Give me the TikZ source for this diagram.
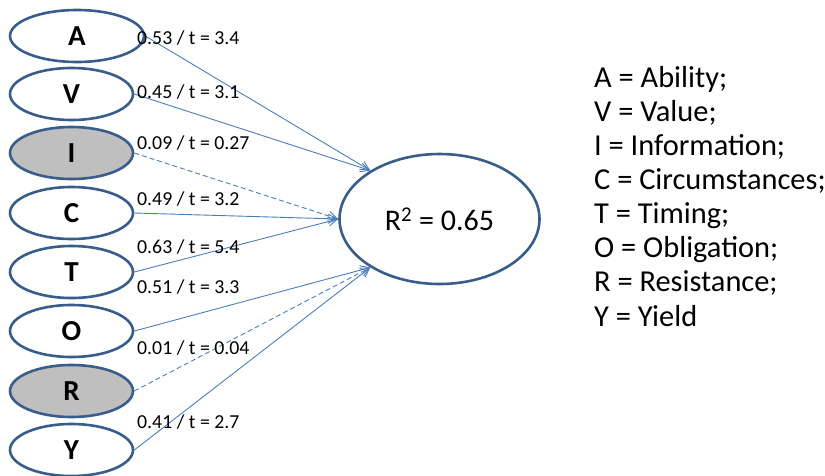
\documentclass[tikz,border=0pt]{standalone}
\usepackage{fontspec}
\setmainfont{Carlito}
\usetikzlibrary{shapes.geometric,arrows.meta}
\definecolor{ebord}{HTML}{385D8A}
\definecolor{lineblue}{HTML}{4A7EBB}
\definecolor{efill}{HTML}{BFBFBF}
\begin{document}
\begin{tikzpicture}[x=1pt,y=-1pt,
  var/.style={ellipse,draw=ebord,line width=2.6pt,fill=white,inner sep=0pt,
    minimum width=123pt,minimum height=52pt,font=\fontsize{29}{30}\selectfont\bfseries},
  grayvar/.style={var,fill=efill},
  path/.style={draw=lineblue,line width=0.9pt,-{Straight Barb[length=9pt,width=9pt]}},
  weak/.style={path,dash pattern=on 5pt off 3pt},
  lbl/.style={anchor=west,inner sep=0pt,font=\fontsize{19.8}{21}\selectfont},
  leg/.style={anchor=base west,inner sep=0pt,font=\fontsize{30.4}{32}\selectfont}]
\useasboundingbox (0,0) rectangle (825,475);
\node[var,minimum width=134pt] (A) at (77,36) {A};
\node[var] (V) at (71.5,94) {V};
\node[grayvar] (I) at (71.5,153) {I};
\node[var] (C) at (71.5,213) {C};
\node[var] (T) at (71.5,272) {T};
\node[var] (O) at (71.5,331) {O};
\node[grayvar] (R) at (71.5,391) {R};
\node[var] (Y) at (71.5,450) {Y};
\node[ellipse,draw=ebord,line width=2.6pt,inner sep=0pt,minimum width=200pt,minimum height=130pt,
  font=\fontsize{30}{32}\selectfont] (Rsq) at (439.5,219) {R\textsuperscript{2} = 0.65};
\draw[path] (A.east) -- (Rsq.145);
\draw[path] (V.east) -- (Rsq.145);
\draw[weak] (I.east) -- (Rsq.west);
\draw[path] (C.east) -- (Rsq.west);
\draw[path] (T.east) -- (Rsq.west);
\draw[path] (O.east) -- (Rsq.215);
\draw[weak] (R.east) -- (Rsq.215);
\draw[path] (Y.east) -- (Rsq.215);
\node[lbl] (lA) at (137,38) {0.53 / t = 3.4};
\node[lbl] (lV) at (137,92) {0.45 / t = 3.1};
\node[lbl] (lI) at (137,143) {0.09 / t = 0.27};
\node[lbl] (lC) at (137,199) {0.49 / t = 3.2};
\node[lbl] (lT) at (137,247) {0.63 / t = 5.4};
\node[lbl] (lO) at (137,287) {0.51 / t = 3.3};
\node[lbl] (lR) at (137,348) {0.01 / t = 0.04};
\node[lbl] (lY) at (137,422) {0.41 / t = 2.7};
\node[leg] (g1) at (594,87) {A = Ability;};
\node[leg] (g2) at (594,121.1) {V = Value;};
\node[leg] (g3) at (594,155.3) {I = Information;};
\node[leg] (g4) at (594,189.4) {C = Circumstances;};
\node[leg] (g5) at (594,223.6) {T = Timing;};
\node[leg] (g6) at (594,257.7) {O = Obligation;};
\node[leg] (g7) at (594,291.9) {R = Resistance;};
\node[leg] (g8) at (594,326) {Y = Yield};
\end{tikzpicture}
\end{document}
